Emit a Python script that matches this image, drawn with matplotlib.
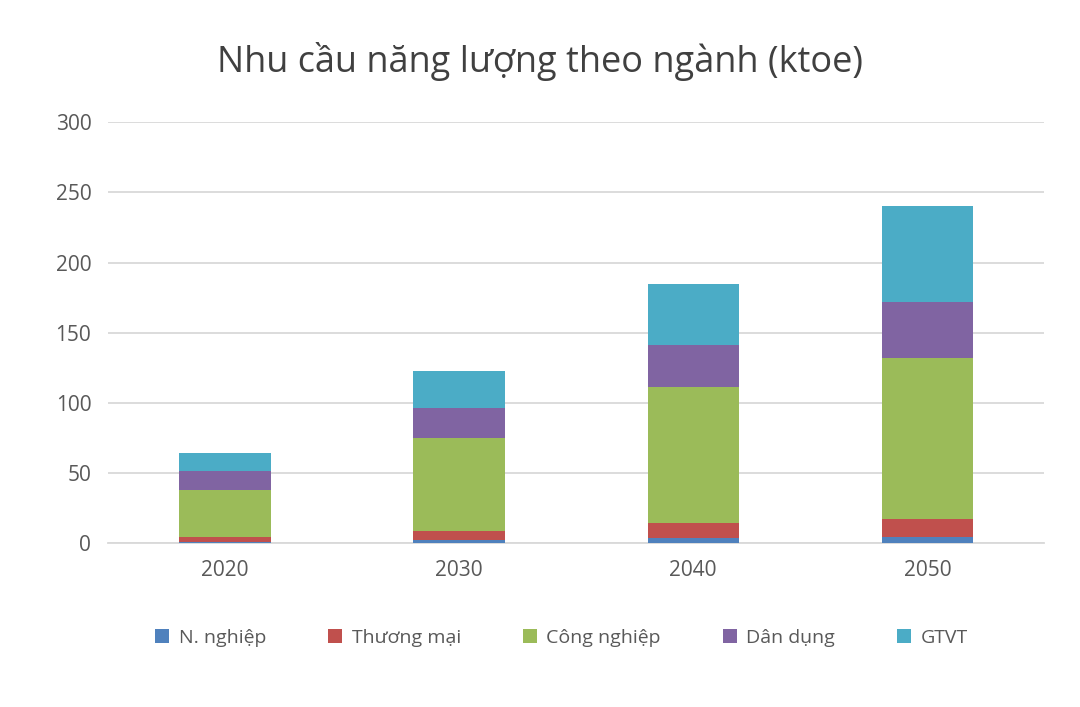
import matplotlib
matplotlib.use("Agg")
import matplotlib.pyplot as plt
import numpy as np

plt.rcParams["font.family"] = "Open Sans"

years = ["2020", "2030", "2040", "2050"]
series_names = ["N. nghiệp", "Thương mại", "Công nghiệp", "Dân dụng", "GTVT"]
n_nghiep = [1.0, 2.0, 3.5, 4.0]
thuong_mai = [3.5, 6.5, 10.5, 13.0]
cong_nghiep = [33.5, 66.5, 97.0, 115.0]
dan_dung = [13.0, 21.0, 30.0, 40.0]
gtvt = [13.0, 27.0, 44.0, 68.0]
colors = ["#4F81BD", "#C0504D", "#9BBB59", "#8064A2", "#4BACC6"]

fig = plt.figure(figsize=(10.8, 7.07), dpi=100)
ax = fig.add_axes([0.1, 0.232, 0.867, 0.595])
x = np.arange(len(years))
bottom = np.zeros(len(years))
for name, vals, c in zip(series_names, [n_nghiep, thuong_mai, cong_nghiep, dan_dung, gtvt], colors):
    ax.bar(x, vals, 0.39, bottom=bottom, color=c, label=name, zorder=3)
    bottom += np.array(vals)

ax.set_xlim(-0.5, 3.5)
ax.set_ylim(0, 300)
ax.set_yticks(range(0, 301, 50))
ax.set_xticks(x)
ax.set_xticklabels(years)
ax.grid(axis="y", color="#D9D9D9", linewidth=1.3, zorder=0)
for s in ["top", "right", "left"]:
    ax.spines[s].set_visible(False)
ax.spines["bottom"].set_color("#D9D9D9")
ax.spines["bottom"].set_linewidth(1.3)
ax.tick_params(length=0, labelsize=15, colors="#595959", pad=12)
fig.suptitle("Nhu cầu năng lượng theo ngành (ktoe)", y=0.94, fontsize=26, color="#404040")
fig.legend(loc="lower center", bbox_to_anchor=(0.52, 0.06), ncol=5, frameon=False,
           fontsize=14, labelcolor="#595959", handlelength=0.7, handleheight=0.7,
           columnspacing=3.2, handletextpad=0.5)
fig.savefig("out.png", dpi=100)
